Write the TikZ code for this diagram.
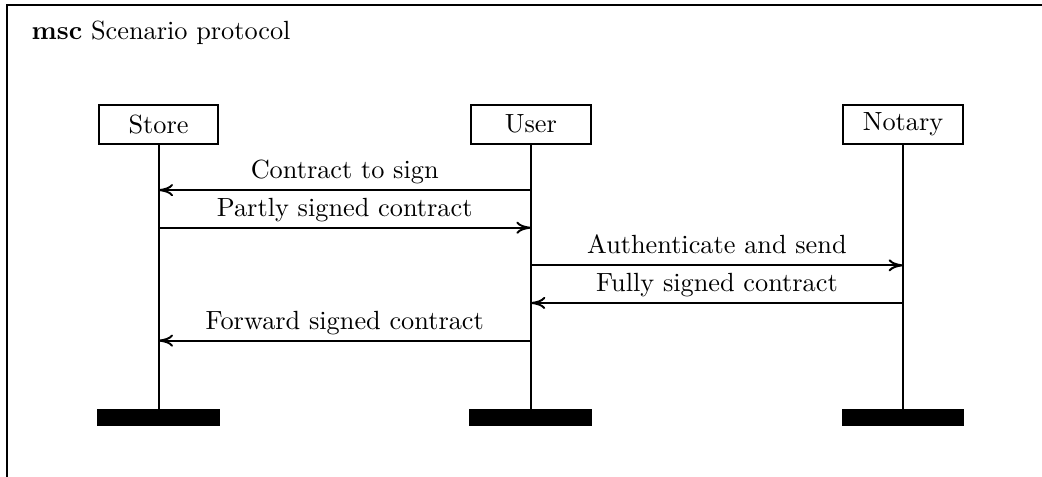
\documentclass[tikz,border=0pt]{standalone}
\usepackage{tikz}
\usetikzlibrary{arrows.meta, positioning, calc}
\tikzset{
    instance/.style={rectangle, draw=black, line width=0.75pt, minimum width=1.6cm, minimum height=0.52cm, inner sep=0pt, text centered},
    endbar/.style={rectangle, fill=black, minimum width=1.64cm, minimum height=0.23cm, inner sep=0pt},
    lifeline/.style={line width=0.75pt},
    msg/.style={line width=0.75pt, -{To[length=5.5pt,width=4.6pt]}},
    msglabel/.style={above, inner sep=2pt, text depth=2pt, midway},
    frameline/.style={line width=0.75pt}
}

\begin{document}
\begin{tikzpicture}
    \useasboundingbox (0,0) rectangle (13.93,-6.364);
    % frame (right and bottom sides fall outside the page)
    \draw [frameline] (0.094,-0.067) rectangle (14.5,-7);
    \node (title) [anchor=base west] at (0.3,-0.53) {\textbf{msc} Scenario protocol};

    % instance heads
    \node (store) [instance] at (2.12,-1.66) {Store};
    \node (user) [instance, right=3.35cm of store] {User};
    \node (notary) [instance, right=3.35cm of user] {Notary};

    % instance ends
    \node (storeend) [endbar, below=3.53cm of store] {};
    \node (userend) [endbar, below=3.53cm of user] {};
    \node (notaryend) [endbar, below=3.53cm of notary] {};

    \draw [lifeline] (store) -- (storeend);
    \draw [lifeline] (user) -- (userend);
    \draw [lifeline] (notary) -- (notaryend);

    % message levels
    \foreach \inst in {store, user, notary} {
        \foreach \i in {1,...,5} {
            \coordinate (\inst-\i) at ($(\inst.south)+(0,-0.105-0.503*\i)$);
        }
    }

    \draw [msg] (user-1) -- node [msglabel] {Contract to sign} (store-1);
    \draw [msg] (store-2) -- node [msglabel] {Partly signed contract} (user-2);
    \draw [msg] (user-3) -- node [msglabel] {Authenticate and send} (notary-3);
    \draw [msg] (notary-4) -- node [msglabel] {Fully signed contract} (user-4);
    \draw [msg] (user-5) -- node [msglabel] {Forward signed contract} (store-5);
\end{tikzpicture}
\end{document}
